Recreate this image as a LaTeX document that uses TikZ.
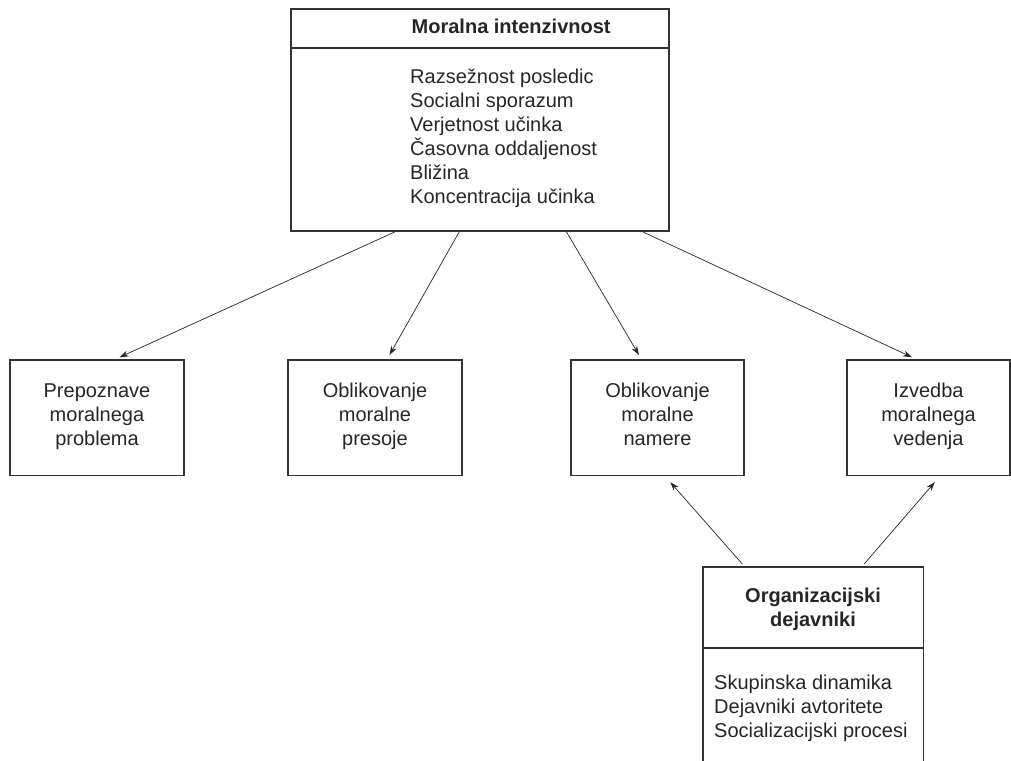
\documentclass[tikz,border=0pt]{standalone}
\usepackage{fontspec}
\setmainfont{Liberation Sans}
\usetikzlibrary{arrows.meta}
\newcommand\diagfont{\fontsize{20}{24}\selectfont}

\begin{document}
\begin{tikzpicture}[x=1pt,y=-1pt,font=\diagfont,text=black!85,
        stagebox/.style={draw=black!80,line width=1.3pt,minimum width=174pt,minimum height=115.5pt,align=center,inner sep=0pt,
            execute at begin node=\strut,execute at end node=\strut},
        bigbox/.style={draw=black!80,line width=1.3pt,inner sep=0pt},
        flow/.style={-{Stealth[length=9pt,width=6pt]},line width=0.7pt,draw=black!85}]
        \useasboundingbox (0,0) rectangle (1011,760);
        \clip (0,0) rectangle (1011,760);
        % moralna intenzivnost
        \node[bigbox,minimum width=378pt,minimum height=222pt] (moral) at (480,120) {};
        \coordinate (moralhdr) at (0,48);
        \draw[line width=1.1pt,black!80] (moral.west |- moralhdr) -- (moral.east |- moralhdr);
        \node[anchor=base west,inner sep=0pt,font=\diagfont\bfseries] (moraltitle) at (411.5,33.5) {Moralna intenzivnost};
        \node[anchor=base west,inner sep=0pt,align=left] (morallist) at (410,203.5)
            {Razsežnost posledic\\Socialni sporazum\\Verjetnost učinka\\Časovna oddaljenost\\Bližina\\Koncentracija učinka};
        % stopnje
        \node[stagebox] (recog) at (97,417.75) {Prepoznave\\moralnega\\problema};
        \node[stagebox] (judge) at (375,417.75) {Oblikovanje\\moralne\\presoje};
        \node[stagebox,minimum width=173pt] (intent) at (657.5,417.75) {Oblikovanje\\moralne\\namere};
        \node[stagebox,minimum width=163pt] (act) at (928.5,417.75) {Izvedba\\moralnega\\vedenja};
        % organizacijski dejavniki
        \node[bigbox,minimum width=220.5pt,minimum height=220pt] (org) at (813.25,677) {};
        \coordinate (orghdr) at (0,648);
        \draw[line width=1.1pt,black!80] (org.west |- orghdr) -- (org.east |- orghdr);
        \node[anchor=base,inner sep=0pt,align=center,font=\diagfont\bfseries] (orgtitle) at (813,626.7) {Organizacijski\\dejavniki};
        \node[anchor=base west,inner sep=0pt,align=left] (orglist) at (714,737)
            {Skupinska dinamika\\Dejavniki avtoritete\\Socializacijski procesi};
        % puscice
        \draw[flow,shorten >=5pt] ([xshift=105pt]moral.south west) -- ([xshift=18pt]recog.north);
        \draw[flow,shorten >=5pt] ([xshift=169pt]moral.south west) -- ([xshift=12pt]judge.north);
        \draw[flow,shorten >=5pt] ([xshift=276pt]moral.south west) -- ([xshift=-16pt]intent.north);
        \draw[flow,shorten >=5pt] ([xshift=352pt]moral.south west) -- ([xshift=-12pt]act.north);
        \draw[flow,shorten <=3pt,shorten >=8pt] ([xshift=42pt]org.north west) -- ([xshift=7.5pt]intent.south);
        \draw[flow,shorten <=3pt,shorten >=8pt] ([xshift=-62pt]org.north east) -- ([xshift=11.5pt]act.south);
\end{tikzpicture}
\end{document}
